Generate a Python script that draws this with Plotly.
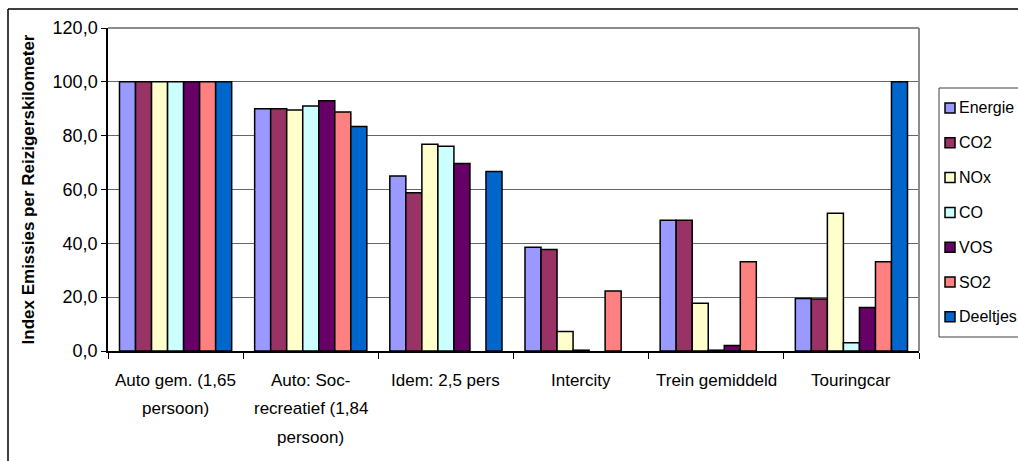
import plotly.graph_objects as go

# Categories and the lines of their axis labels
categories = [
    "Auto gem. (1,65 persoon)",
    "Auto: Soc-recreatief (1,84 persoon)",
    "Idem: 2,5 pers",
    "Intercity",
    "Trein gemiddeld",
    "Touringcar",
]
category_label_lines = [
    ["Auto gem. (1,65", "persoon)"],
    ["Auto: Soc-", "recreatief (1,84", "persoon)"],
    ["Idem: 2,5 pers"],
    ["Intercity"],
    ["Trein gemiddeld"],
    ["Touringcar"],
]

# Index values per emission type (Auto gem. = 100)
energie = [100.0, 90.0, 65.0, 38.5, 48.6, 19.5]
co2 = [100.0, 90.0, 58.8, 37.7, 48.6, 19.3]
nox = [100.0, 89.5, 76.8, 7.2, 17.7, 51.2]
co = [100.0, 91.0, 76.1, 0.3, 0.3, 3.1]
vos = [100.0, 93.0, 69.7, None, 2.0, 16.2]
so2 = [100.0, 88.8, None, 22.3, 33.2, 33.2]
deeltjes = [100.0, 83.4, 66.7, None, None, 100.0]

series_names = ["Energie", "CO2", "NOx", "CO", "VOS", "SO2", "Deeltjes"]
series_values = [energie, co2, nox, co, vos, so2, deeltjes]
series_colors = ["#9999FF", "#993366", "#FFFFCC", "#CCFFFF", "#660066", "#FF8080", "#0066CC"]

y_ticks = [0, 20, 40, 60, 80, 100, 120]

FONT = "Liberation Sans, Arial, sans-serif"

W, H = 1018, 461
ML, MR, MT, MB = 108, 99, 28, 110
PW, PH = W - ML - MR, H - MT - MB


def px_x(x):
    """Pixel column -> paper x."""
    return (x - ML) / PW


def px_y(y):
    """Pixel row -> paper y."""
    return (H - MB - y) / PH


fig = go.Figure()
for name, vals, color in zip(series_names, series_values, series_colors):
    fig.add_trace(go.Bar(
        name=name,
        x=categories,
        y=vals,
        marker=dict(color=color, line=dict(color="black", width=1.5)),
    ))

annotations = []
shapes = []

# Category labels below the axis, one annotation per line
for cat, lines in zip(categories, category_label_lines):
    for i, line in enumerate(lines):
        annotations.append(dict(
            x=cat, xref="x", y=0, yref="paper",
            text=line, showarrow=False,
            xanchor="center", yanchor="middle",
            yshift=-(29 + 28.5 * i),
            font=dict(family=FONT, size=17, color="black"),
        ))

# Chart frame
shapes += [
    dict(type="line", xref="paper", yref="paper",
         x0=px_x(8), x1=px_x(8), y0=px_y(470), y1=px_y(9),
         line=dict(color="black", width=1.5)),
    dict(type="line", xref="paper", yref="paper",
         x0=px_x(8), x1=px_x(1040), y0=px_y(9), y1=px_y(9),
         line=dict(color="black", width=1.5)),
]
# Plot area border (top and right)
shapes += [
    dict(type="line", xref="paper", yref="paper",
         x0=0, x1=1, y0=1, y1=1, line=dict(color="#8c8c8c", width=2)),
    dict(type="line", xref="paper", yref="paper",
         x0=1, x1=1, y0=0, y1=1, line=dict(color="#8c8c8c", width=2)),
]

# Legend box with a swatch and label for each series
LEG_X0, LEG_Y0, LEG_Y1 = 939, 88, 337
ROW0, ROW_STEP = 108, 34.8
shapes.append(dict(
    type="rect", xref="paper", yref="paper",
    x0=px_x(LEG_X0), x1=px_x(1040), y0=px_y(LEG_Y1), y1=px_y(LEG_Y0),
    line=dict(color="#404040", width=1), fillcolor="white", layer="below",
))
for i, (name, color) in enumerate(zip(series_names, series_colors)):
    cy = ROW0 + ROW_STEP * i
    shapes.append(dict(
        type="rect", xref="paper", yref="paper",
        x0=px_x(945), x1=px_x(955), y0=px_y(cy + 5), y1=px_y(cy - 5),
        line=dict(color="black", width=1.5), fillcolor=color,
    ))
    annotations.append(dict(
        x=px_x(957), xref="paper", y=px_y(cy), yref="paper",
        text=name, showarrow=False, xanchor="left", yanchor="middle",
        font=dict(family=FONT, size=16, color="black"),
    ))

fig.update_layout(
    width=W, height=H,
    margin=dict(l=ML, r=MR, t=MT, b=MB, autoexpand=False),
    paper_bgcolor="white", plot_bgcolor="white",
    barmode="group", bargap=0.17, bargroupgap=0,
    separators=",.",
    font=dict(family=FONT, color="black"),
    showlegend=False,
    annotations=annotations,
    shapes=shapes,
)

fig.update_xaxes(
    showticklabels=False,
    showline=True, linecolor="black", linewidth=1.5,
    ticks="outside", tickson="boundaries", ticklen=6, tickcolor="black", tickwidth=1,
    showgrid=False,
)
fig.update_yaxes(
    range=[0, 120], tickvals=y_ticks, tickformat=".1f",
    showline=True, linecolor="black", linewidth=1.5,
    ticks="outside", ticklen=5, tickcolor="black", tickwidth=1,
    showgrid=True, gridcolor="#666666", gridwidth=1.2,
    zeroline=False,
    tickfont=dict(family=FONT, size=18, color="black"),
    title=dict(text="<b>Index Emissies per Reizigerskilometer</b>",
               font=dict(family=FONT, size=17, color="black"), standoff=14),
)

fig.write_html("out.html")
